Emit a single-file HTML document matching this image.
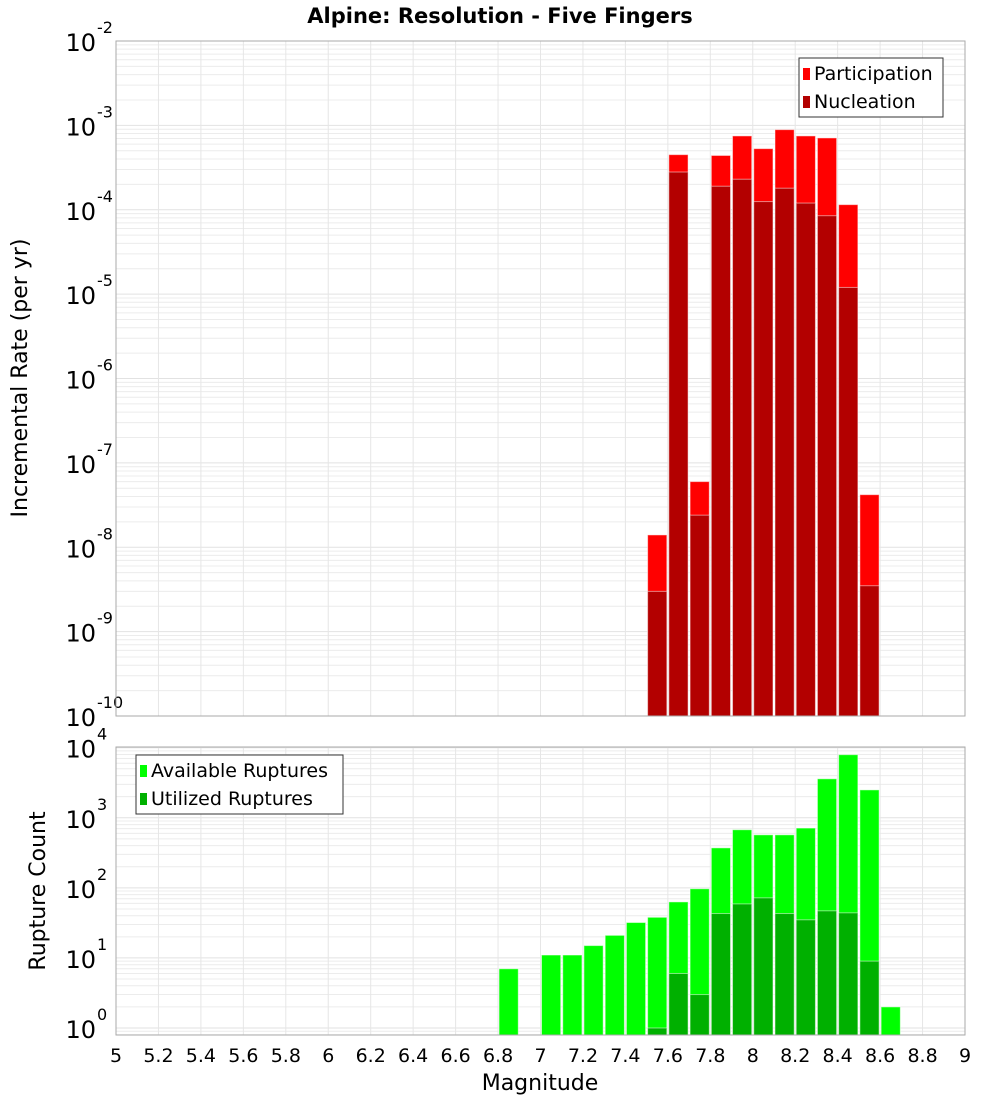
<!DOCTYPE html>
<html><head><meta charset="utf-8"><style>
body{margin:0;background:#fff;}
svg text{font-family:"DejaVu Sans","Liberation Sans",sans-serif;}
</style></head><body>
<svg id="chart" width="1000" height="1100" xmlns="http://www.w3.org/2000/svg">
<text x="500" y="23" text-anchor="middle" font-size="21" font-weight="bold">Alpine: Resolution - Five Fingers</text>
<g id="topPlot"></g>
<g id="botPlot"></g>
<text transform="translate(27,378) rotate(-90)" text-anchor="middle" font-size="22">Incremental Rate (per yr)</text>
<text transform="translate(45,891) rotate(-90)" text-anchor="middle" font-size="22">Rupture Count</text>
<text x="540" y="1090" text-anchor="middle" font-size="22">Magnitude</text>
</svg>
<script>
const mags=[7.55,7.65,7.75,7.85,7.95,8.05,8.15,8.25,8.35,8.45,8.55];
const participation=[1.4e-8,4.5e-4,6e-8,4.4e-4,7.5e-4,5.3e-4,8.9e-4,7.5e-4,7.1e-4,1.15e-4,4.2e-8];
const nucleation=[3e-9,2.8e-4,2.4e-8,1.9e-4,2.3e-4,1.25e-4,1.8e-4,1.2e-4,8.5e-5,1.2e-5,3.5e-9];
const countMags=[6.85,7.05,7.15,7.25,7.35,7.45,7.55,7.65,7.75,7.85,7.95,8.05,8.15,8.25,8.35,8.45,8.55,8.65];
const available=[7,11,11,15,21,32,38,63,97,372,675,571,571,713,3600,7950,2500,2];
const utilized=[0,0,0,0,0,0,1,6,3,43,59,72,43,35,47,44,9,0];
const xTicks=[5,5.2,5.4,5.6,5.8,6,6.2,6.4,6.6,6.8,7,7.2,7.4,7.6,7.8,8,8.2,8.4,8.6,8.8,9];
const topExps=[-10,-9,-8,-7,-6,-5,-4,-3,-2];
const botExps=[0,1,2,3,4];

const NS="http://www.w3.org/2000/svg";
const X0=116,X1=965;
const xs=m=>X0+(m-5)/4*(X1-X0);
const T={y0:41,y1:716,lo:-10,hi:-2};
const B={y0:747,y1:1035,lo:-0.1,hi:4.01};
const ys=(P,v)=>P.y1-(Math.log10(v)-P.lo)/(P.hi-P.lo)*(P.y1-P.y0);
function el(g,tag,a){const e=document.createElementNS(NS,tag);for(const k in a)e.setAttribute(k,a[k]);g.appendChild(e);return e;}

function frame(g,P,exps,nm){
  for(let e=Math.floor(P.lo);e<=Math.ceil(P.hi);e++){
    for(let k=1;k<10;k++){const v=k*Math.pow(10,e);const l=Math.log10(v);if(l<P.lo||l>P.hi)continue;const y=ys(P,v);
      const ln=el(g,'line',{x1:X0,x2:X1,y1:y,y2:y,stroke:k==1?'#e2e2e2':'#ececec','stroke-width':1});
      
      }
  }
  xTicks.forEach(t=>{const x=xs(t);const ln=el(g,'line',{x1:x,x2:x,y1:P.y0,y2:P.y1,stroke:'#e6e6e6'});
    
    });
  exps.forEach(e=>{const y=ys(P,Math.pow(10,e));
    const t=el(g,'text',{x:96,y:y+10,'text-anchor':'end','font-size':24});t.textContent='10';
    
    
    const s=el(g,'text',{x:97,y:y-8,'font-size':16});s.textContent=String(e);
    
    });
}
function box(g,P,nm){const r=el(g,'rect',{x:X0,y:P.y0,width:X1-X0,height:P.y1-P.y0,fill:'none',stroke:'#aaa'});
  
  }
function bar(g,P,m,v,fill,nm){if(!(v>0))return;const x=xs(m-0.05)+1,w=xs(m+0.05)-xs(m-0.05)-2;const y=Math.max(P.y0,ys(P,v));
  const r=el(g,'rect',{x:x,y:y,width:w,height:P.y1-y,fill:fill,stroke:'rgba(255,255,255,0.5)','stroke-width':1});
  
  }
function legend(g,x,y,w,items,nm){
  const r=el(g,'rect',{x:x,y:y,width:w,height:59,fill:'#fff',stroke:'#333'});
  
  
  items.forEach((it,i)=>{const sw=el(g,'rect',{x:x+4,y:y+10+i*28,width:7,height:12,fill:it[1]});
    
    
    const t=el(g,'text',{x:x+15,y:y+22+i*28,'font-size':19});t.textContent=it[0];
    
    });
}
const topG=document.getElementById('topPlot'),botG=document.getElementById('botPlot');
frame(topG,T,topExps,'rate');
mags.forEach((m,i)=>{bar(topG,T,m,participation[i],'#ff0000','participation-bar');});
mags.forEach((m,i)=>{bar(topG,T,m,nucleation[i],'#b30000','nucleation-bar');});
box(topG,T,'rate-plot');
legend(topG,799,58,144,[['Participation','#ff0000'],['Nucleation','#b30000']],'rate-legend');

frame(botG,B,botExps,'count');
countMags.forEach((m,i)=>{bar(botG,B,m,available[i],'#00ff00','available-bar');});
countMags.forEach((m,i)=>{bar(botG,B,m,utilized[i],'#00b000','utilized-bar');});
box(botG,B,'count-plot');
legend(botG,136,755,207,[['Available Ruptures','#00ff00'],['Utilized Ruptures','#00b000']],'count-legend');
xTicks.forEach(t=>{const tx=el(botG,'text',{x:xs(t),y:1062,'text-anchor':'middle','font-size':19});tx.textContent=String(t);
  
  });
</script>
</body></html>
